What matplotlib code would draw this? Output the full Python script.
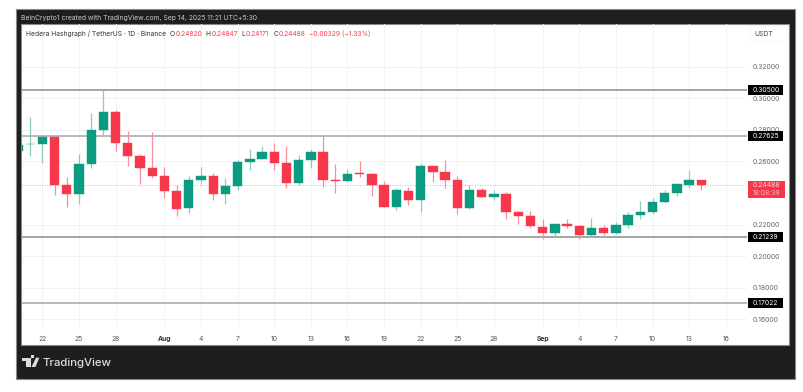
import matplotlib
matplotlib.use('Agg')
import matplotlib.pyplot as plt
from matplotlib.patches import Rectangle, Polygon

W, H = 804, 392

# daily candles, Jul 20 .. Sep 14
opens = [.26685, .27109, .27109, .27533, .24514, .23925, .25862, .27995, .29153, .27153,
         .26368, .25571, .25083, .24115, .23038, .24849, .25083, .23925, .24450, .25988,
         .26159, .26602, .25925, .24659, .26115, .26602, .24849, .24748, .25254, .25210,
         .24494, .23140, .24152, .23545, .25697, .25336, .24811, .23057, .24178, .23754,
         .23925, .22804, .22570, .21873, .21475, .22064, .21918, .21329, .21810, .21456,
         .21962, .22614, .22804, .23418, .23988, .24533, .24820]
highs = [.27046, .28837, .27533, .27533, .25001, .26457, .29090, .30508, .29242, .27932,
         .26495, .27887, .25634, .24514, .25102, .25634, .25254, .24975, .26077, .26811,
         .26982, .27172, .26982, .26413, .26773, .27615, .25862, .25526, .26052, .25273,
         .24748, .24305, .24368, .25887, .25697, .26096, .25083, .24494, .24343, .24197,
         .24052, .22886, .22867, .22361, .22064, .22341, .21981, .22425, .21962, .22190,
         .22804, .23481, .23709, .24178, .24558, .25463, .24847]
lows = [.26685, .26349, .25925, .23862, .23121, .23330, .25608, .27634, .26685, .25716,
        .24558, .24975, .23709, .22551, .22721, .24558, .23583, .23330, .24178, .25482,
        .26140, .25482, .24343, .24494, .25608, .24406, .24026, .24684, .25001, .23836,
        .23102, .22931, .23247, .22822, .24684, .24305, .22677, .22994, .23754, .23564,
        .22361, .22045, .21772, .21074, .21137, .21791, .21074, .21239, .21367, .21412,
        .21791, .22361, .22658, .23355, .23798, .24343, .24171]
closes = [.27046, .27125, .27533, .24514, .23944, .25862, .27976, .29153, .27153, .26368,
          .25571, .25102, .24115, .23013, .24830, .25083, .23944, .24450, .25988, .26178,
          .26602, .25925, .24659, .26115, .26602, .24849, .24748, .25210, .25191, .24494,
          .23140, .24178, .23545, .25697, .25336, .24811, .23076, .24178, .23754, .23925,
          .22785, .22570, .21899, .21475, .22064, .21918, .21329, .21810, .21456, .21962,
          .22614, .22804, .23418, .23988, .24558, .24811, .24488]

price_ticks = [.16, .18, .20, .22, .26, .28, .30, .32]
price_labels = ['0.16000', '0.18000', '0.20000', '0.22000', '0.26000', '0.28000', '0.30000', '0.32000']
levels = [.30500, .27625, .21239, .17022]
level_labels = ['0.30500', '0.27625', '0.21239', '0.17022']
level_cols = ['#8c8c8c', '#a6a6a6', '#8c8c8c', '#a6a6a6']
last_price = .24488

day_ticks = [2, 5, 8, 12, 15, 18, 21, 24, 27, 30, 33, 36, 39, 43, 46, 49, 52, 55, 58]
day_labels = ['22', '25', '28', 'Aug', '4', '7', '10', '13', '16', '19', '22', '25', '28', 'Sep', '4', '7', '10', '13', '16']

RED = '#f7374a'
GREEN = '#0a9b80'
RED_WICK = '#f98f9a'
GREEN_WICK = '#8fcbbb'

plt.rcParams['font.family'] = 'Inter'


def px(x, y):
    return x / W, 1 - y / H


def label(x, y, s, color='#333333', size=4.9, ha='left', **kw):
    fx, fy = px(x, y)
    fig.text(fx, fy, s, color=color, fontsize=size, ha=ha, va='center', **kw)


def box(x0, y0, x1, y1, **kw):
    fig.add_artist(Rectangle(px(x0, y1), (x1 - x0) / W, (y1 - y0) / H,
                             transform=fig.transFigure, **kw))


fig = plt.figure(figsize=(W / 100, H / 100), dpi=100, facecolor='white')

# dark frame and white pane
box(15.7, 9.3, 795.3, 379.3, facecolor='#1e1e1e', edgecolor='#8a8a8a', linewidth=0.8, zorder=0)
box(21.5, 24.3, 789.5, 345.3, facecolor='white', edgecolor='#8a8a8a', linewidth=0.8, zorder=0)

ax = fig.add_axes([21.7 / W, 1 - 328.7 / H, 725 / W, 304.4 / H])
ax.set_zorder(2)
ax.patch.set_alpha(0)
for s in ax.spines.values():
    s.set_visible(False)
ax.set_xlim(0.30, 59.72)
ax.set_ylim(.15407, .34685)

ax.set_xticks(day_ticks)
ax.set_xticklabels(day_labels, fontsize=4.9, color='#555555')
for t, name in zip(ax.get_xticklabels(), day_labels):
    if name in ('Aug', 'Sep'):
        t.set_fontweight('bold')
        t.set_color('#333333')
ax.set_yticks(price_ticks)
ax.set_yticklabels(price_labels, fontsize=4.9, color='#666666')
ax.yaxis.tick_right()
ax.tick_params(axis='both', length=0)
ax.tick_params(axis='y', pad=4)
ax.tick_params(axis='x', pad=5)
ax.grid(True, color='#f3f3f5', linewidth=0.7)
ax.set_axisbelow(True)

# candles
days = list(range(len(opens)))
cols = [GREEN if c >= o else RED for o, c in zip(opens, closes)]
wick_cols = [GREEN_WICK if c >= o else RED_WICK for o, c in zip(opens, closes)]
ax.vlines(days, lows, highs, colors=wick_cols, linewidth=0.9, zorder=3)
bodies = [abs(c - o) for o, c in zip(opens, closes)]
ax.bar(days, bodies, bottom=[min(o, c) for o, c in zip(opens, closes)], width=0.76,
       color=cols, edgecolor=cols, linewidth=0.3, zorder=4)

# horizontal levels with black price tags
tr = ax.get_yaxis_transform()
for lv, name, col in zip(levels, level_labels, level_cols):
    ax.axhline(lv, color=col, linewidth=1.1, zorder=2)
    ax.add_patch(Rectangle((1 + 1.0 / 725, lv - 5 / 1579), 35 / 725, 10 / 1579, transform=tr,
                           facecolor='black', edgecolor='none', clip_on=False, zorder=6))
    ax.text(1 + 5.6 / 725, lv, name, transform=tr, color='white', fontsize=4.9,
            va='center', ha='left', clip_on=False, zorder=7)

# last price line and tag
ax.axhline(last_price, color=RED, linewidth=0.6, linestyle=(0, (1, 2)), alpha=0.6, zorder=2)
box(747.7, 180.7, 785, 197.7, facecolor=RED, edgecolor='none', zorder=5)
label(752.3, 185.4, '0.24488', color='#ffd9dd', zorder=6)
label(752.3, 193.3, '18:08:39', color='#ffb3ba', zorder=6)

# header text
label(21, 18.3, 'BeinCrypto1 created with TradingView.com, Sep 14, 2025 11:21 UTC+5:30',
      color='#c8c8c8')
label(25.7, 33.5, 'Hedera Hashgraph / TetherUS \u00b7 1D \u00b7 Binance', size=4.8)
for x, s, c in [(170, 'O', '#333333'), (175.7, '0.24820', RED), (205.7, 'H', '#333333'),
                (211.3, '0.24847', RED), (241.3, 'L', '#333333'), (245.7, '0.24171', RED),
                (273.3, 'C', '#333333'), (278.3, '0.24488', RED),
                (309.3, '\u22120.00329 (\u22121.33%)', RED)]:
    label(x, 33.5, s, color=c, size=4.8)

box(750, 26, 787, 41, facecolor='white', edgecolor='#f4f4f4', linewidth=0.5, zorder=1)
label(754.3, 34, 'USDT', color='#444444', zorder=6)

# logo and name in footer
logo = '#dcdcdc'
fig.add_artist(Polygon([px(22, 357.7), px(30.7, 357.7), px(30.7, 367), px(26, 367),
                        px(26, 361.2), px(22, 361.2)], transform=fig.transFigure,
                       facecolor=logo, edgecolor='none'))
fig.add_artist(Polygon([px(36, 357.7), px(39.3, 357.7), px(35.5, 367), px(31.5, 367)],
                       transform=fig.transFigure, facecolor=logo, edgecolor='none'))
fig.add_artist(Rectangle(px(31.3, 358), 3 / W, 3.4 / H, transform=fig.transFigure,
                         facecolor=logo, edgecolor='none'))
label(43, 362.7, 'TradingView', color=logo, size=8.2, fontweight='medium')

fig.savefig('out.png', dpi=100)
